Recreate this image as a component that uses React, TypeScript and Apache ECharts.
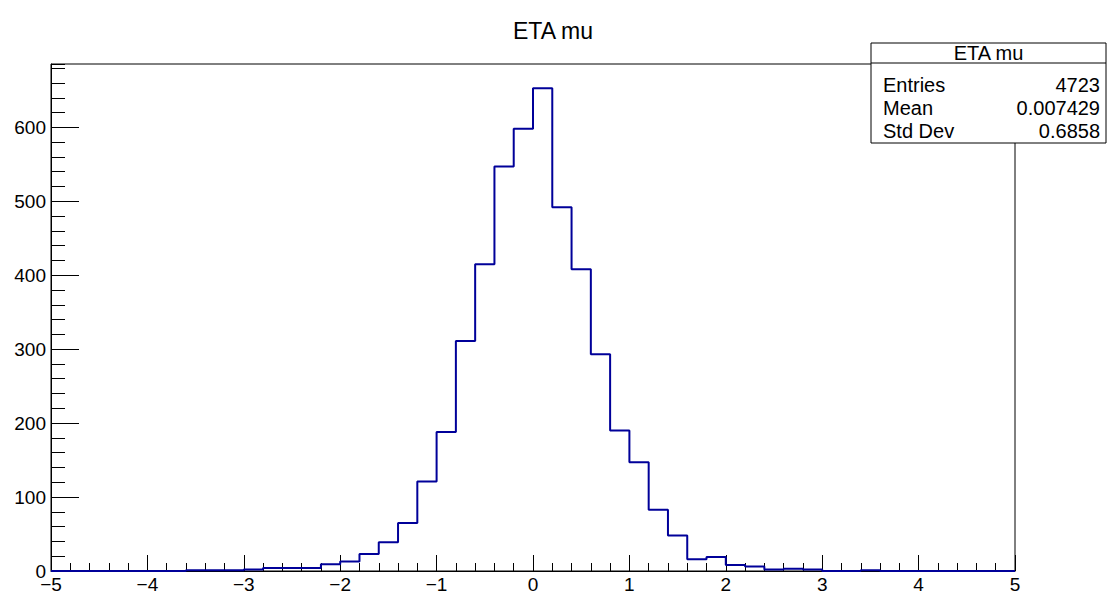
import React, { useEffect, useRef } from "react";
import * as echarts from "echarts";

const chartTitle = "ETA mu";
const xRange = [-5, 5];
const nBins = 50;
const binCounts = [
  0, 0, 0, 0, 0, 0, 0, 1, 1, 1,
  2, 4, 4, 4, 9, 13, 23, 39, 65, 121,
  188, 311, 415, 547, 598, 653, 492, 408, 293, 190,
  147, 83, 48, 16, 19, 8, 6, 2, 3, 2,
  0, 0, 1, 0, 0, 0, 0, 0, 0, 0,
];
const statLabels = ["Entries", "Mean", "Std Dev"];
const statValues = ["4723", "0.007429", "0.6858"];

const FONT = '"Liberation Sans", Arial, Helvetica, sans-serif';

export default function App() {
  const ref = useRef<HTMLDivElement>(null);
  useEffect(() => {
    if (!ref.current) return;
    const chart = echarts.init(ref.current, null, { renderer: "svg" });
    const binW = (xRange[1] - xRange[0]) / nBins;
    const pts: number[][] = binCounts.map((v, i) => [
      Number((xRange[0] + i * binW).toFixed(6)),
      v,
    ]);
    pts.push([xRange[1], binCounts[binCounts.length - 1]]);
    const yMax = Math.max(...binCounts) * 1.05;
    const minus = (v: number) => String(v).replace("-", "\u2212");

    const left = 51, right = 1015, top = 64, bottom = 571;
    const boxX = 871, boxY = 43, boxW = 235, boxH = 100;
    const rowY = [85, 108, 131];

    const graphics: any[] = [
      {
        type: "text",
        x: 553,
        y: 31,
        style: { text: chartTitle, fontSize: 23, fontFamily: FONT, fill: "#000", textAlign: "center", textVerticalAlign: "middle" },
      },
      {
        type: "rect",
        z: 10,
        shape: { x: boxX, y: boxY, width: boxW, height: boxH },
        style: { fill: "#fff", stroke: "#000", lineWidth: 1 },
      },
      {
        type: "line",
        z: 11,
        shape: { x1: boxX, y1: 63, x2: boxX + boxW, y2: 63 },
        style: { stroke: "#000", lineWidth: 1 },
      },
      {
        type: "text",
        z: 11,
        x: boxX + boxW / 2,
        y: 53,
        style: { text: chartTitle, fontSize: 20, fontFamily: FONT, fill: "#000", textAlign: "center", textVerticalAlign: "middle" },
      },
    ];
    statLabels.forEach((lab, i) => {
      graphics.push({
        type: "text",
        z: 11,
        x: 883,
        y: rowY[i],
        style: { text: lab, fontSize: 20, fontFamily: FONT, fill: "#000", textAlign: "left", textVerticalAlign: "middle" },
      });
      graphics.push({
        type: "text",
        z: 11,
        x: 1100,
        y: rowY[i],
        style: { text: statValues[i], fontSize: 20, fontFamily: FONT, fill: "#000", textAlign: "right", textVerticalAlign: "middle" },
      });
    });

    chart.setOption({
      animation: false,
      backgroundColor: "#fff",
      grid: {
        left: left,
        right: 1108 - right,
        top: top,
        bottom: 597 - bottom,
        show: true,
        borderColor: "#000",
        borderWidth: 1,
        backgroundColor: "transparent",
      },
      xAxis: [
        {
          type: "value",
          min: xRange[0],
          max: xRange[1],
          interval: 1,
          position: "bottom",
          axisLine: { show: true, onZero: false, lineStyle: { color: "#000", width: 1 } },
          axisTick: { show: true, inside: true, length: 16, lineStyle: { color: "#000", width: 1 } },
          minorTick: { show: true, splitNumber: 5, length: 8, lineStyle: { color: "#000", width: 1 } },
          splitLine: { show: false },
          minorSplitLine: { show: false },
          axisLabel: { color: "#000", fontSize: 19, fontFamily: FONT, margin: 4, formatter: minus },
        },
      ],
      yAxis: [
        {
          type: "value",
          min: 0,
          max: yMax,
          interval: 100,
          position: "left",
          axisLine: { show: true, onZero: false, lineStyle: { color: "#000", width: 1 } },
          axisTick: { show: true, inside: true, length: 28, lineStyle: { color: "#000", width: 1 } },
          splitLine: { show: false },
          axisLabel: { color: "#000", fontSize: 19, fontFamily: FONT, margin: 5, showMaxLabel: false },
        },
        {
          type: "value",
          min: 0,
          max: yMax,
          interval: 20,
          position: "left",
          axisLine: { show: false, onZero: false },
          axisTick: { show: true, inside: true, length: 14, lineStyle: { color: "#000", width: 1 } },
          splitLine: { show: false },
          axisLabel: { show: false },
        },
      ],
      series: [
        {
          type: "line",
          step: "end",
          data: pts,
          xAxisIndex: 0,
          yAxisIndex: 0,
          symbol: "none",
          lineStyle: { color: "#000099", width: 2 },
          clip: true,
        },
      ],
      graphic: graphics,
    });
    return () => chart.dispose();
  }, []);
  return (
    <div
      ref={ref}
      style={{ position: "absolute", left: 0, top: 0, width: 1108, height: 597 }}
    />
  );
}
